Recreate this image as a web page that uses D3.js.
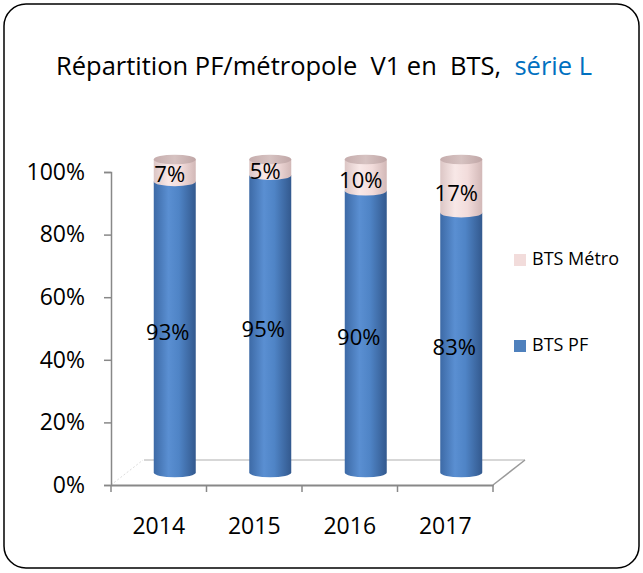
<!DOCTYPE html>
<html>
<head>
<meta charset="utf-8">
<script src="https://cdn.jsdelivr.net/npm/d3@7"></script>
<style>
  body { margin: 0; background: #fff; }
  svg text { font-family: "Open Sans", Lato, sans-serif; }
</style>
</head>
<body>
<div id="chart"></div>
<script>
/* data */
const years = ["2014", "2015", "2016", "2017"];
const btsPF = [93, 95, 90, 83];
const btsMetro = [7, 5, 10, 17];
const yTicks = [0, 20, 40, 60, 80, 100];

const W = 643, H = 573;
const FONT = "'Open Sans', Lato, sans-serif";
const svg = d3.select("#chart").append("svg").attr("width", W).attr("height", H);

/* outer frame */
svg.append("rect").attr("x", 4).attr("y", 4).attr("width", W - 8).attr("height", H - 9)
  .attr("rx", 22).attr("fill", "#fff").attr("stroke", "#000").attr("stroke-width", 1.5);

/* title (keeps the double spaces of the original) */
const title = svg.append("text").attr("x", 324).attr("y", 75).attr("text-anchor", "middle")
  .attr("xml:space", "preserve").style("white-space", "pre")
  .style("font-size", "25.5px").style("fill", "#000");
title.append("tspan").text("Répartition PF/métropole  V1 en  BTS,  ");
title.append("tspan").style("fill", "#0070C0").text("série L");

/* scales — front plane, depth offset for pseudo 3D */
const x = d3.scaleBand().domain(years).range([111, 493]).padding(0);
const y = d3.scaleLinear().domain([0, 100]).range([485, 172]);
const depth = { dx: 32, dy: -25 };
const cx = d => x(d) + x.bandwidth() / 2 + depth.dx / 2;
const cy = v => y(v) + depth.dy / 2;
const rx = 21, ry = 4.8;

/* gradients */
const defs = svg.append("defs");
function grad(id, stops) {
  const g = defs.append("linearGradient").attr("id", id).attr("x1", 0).attr("x2", 1).attr("y1", 0).attr("y2", 0);
  stops.forEach(([o, c]) => g.append("stop").attr("offset", o).attr("stop-color", c));
}
grad("gBlue", [[0, "#3d6aa6"], [0.35, "#5a8fd2"], [0.6, "#4f84c6"], [1, "#33598e"]]);
grad("gPink", [[0, "#dcc6c5"], [0.35, "#f8e8e7"], [0.65, "#f2dcdb"], [1, "#d2b8b7"]]);
grad("gPinkTop", [[0, "#c6adad"], [0.5, "#d6c2c1"], [1, "#c0a6a6"]]);

/* floor */
const x0 = x.range()[0], x1 = x.range()[1], yb = y(0);
svg.append("line").attr("x1", x0 + depth.dx + 1).attr("x2", x1 + depth.dx)
  .attr("y1", yb + depth.dy).attr("y2", yb + depth.dy).attr("stroke", "#b0b0b0").attr("stroke-width", 1.2);
svg.append("line").attr("x1", x0).attr("x2", x0 + depth.dx)
  .attr("y1", yb).attr("y2", yb + depth.dy).attr("stroke", "#ddd").attr("stroke-dasharray", "2,2");
svg.append("line").attr("x1", x1).attr("x2", x1 + depth.dx)
  .attr("y1", yb).attr("y2", yb + depth.dy).attr("stroke", "#9a9a9a").attr("stroke-width", 1.5);

/* y axis */
const yAxis = svg.append("g").attr("transform", `translate(${x0},0)`)
  .call(d3.axisLeft(y).tickValues(yTicks).tickSize(7).tickPadding(19).tickFormat(d => d + "%"));
yAxis.select(".domain").attr("stroke", "#888").attr("stroke-width", 1.5);
yAxis.selectAll(".tick line").attr("stroke", "#888").attr("stroke-width", 1.5);
yAxis.selectAll("text").style("font-size", "23px").style("fill", "#000").style("font-family", FONT);

/* x axis */
const xAxis = svg.append("g").attr("transform", `translate(0,${yb})`)
  .call(d3.axisBottom(x).tickSize(0).tickPadding(33));
xAxis.select(".domain").attr("stroke", "#888").attr("stroke-width", 2);
xAxis.selectAll("text").style("font-size", "23px").style("fill", "#000").style("font-family", FONT);
const catTicks = years.map(d => x(d)).concat([x1]);
svg.append("g").selectAll("line").data(catTicks).enter().append("line")
  .attr("x1", d => d).attr("x2", d => d).attr("y1", yb).attr("y2", yb + 7)
  .attr("stroke", "#888").attr("stroke-width", 1.5);

/* cylinders */
const bars = svg.append("g");
years.forEach((yr, i) => {
  const c = cx(yr);
  const yBot = cy(0), yMid = cy(btsPF[i]), yTop = cy(btsPF[i] + btsMetro[i]);
  const g = bars.append("g");
  // blue body
  g.append("path")
    .attr("d", `M${c - rx},${yMid} L${c - rx},${yBot} A${rx},${ry} 0 0 0 ${c + rx},${yBot} L${c + rx},${yMid} Z`)
    .attr("fill", "url(#gBlue)");
  // pink body with lower arc over blue
  g.append("path")
    .attr("d", `M${c - rx},${yTop} L${c - rx},${yMid} A${rx},${ry} 0 0 0 ${c + rx},${yMid} L${c + rx},${yTop} Z`)
    .attr("fill", "url(#gPink)");
  // top cap
  g.append("ellipse").attr("cx", c).attr("cy", yTop).attr("rx", rx).attr("ry", ry)
    .attr("fill", "url(#gPinkTop)");

  // labels
  g.append("text").attr("x", c - 7).attr("y", cy(btsPF[i] / 2) + 7)
    .attr("text-anchor", "middle").attr("dominant-baseline", "middle")
    .style("font-size", "22px").style("fill", "#000").text(btsPF[i] + "%");
  g.append("text").attr("x", c - 5).attr("y", cy(btsPF[i] + btsMetro[i] / 2) + 4 + btsMetro[i] * 0.3)
    .attr("text-anchor", "middle").attr("dominant-baseline", "middle")
    .style("font-size", "22px").style("fill", "#000").text(btsMetro[i] + "%");
});

/* legend */
const legend = [
  { label: "BTS Métro", color: "#f2dcdb", y: 260 },
  { label: "BTS PF", color: "#4f81bd", y: 346 }
];
const lg = svg.append("g").selectAll("g").data(legend).enter().append("g")
  .attr("transform", d => `translate(514,${d.y})`);
lg.append("rect").attr("x", 0).attr("y", -6).attr("width", 12).attr("height", 12).attr("fill", d => d.color);
lg.append("text").attr("x", 18).attr("y", 0).attr("dominant-baseline", "middle")
  .style("font-size", "18px").style("fill", "#000").text(d => d.label);
</script>
</body>
</html>
